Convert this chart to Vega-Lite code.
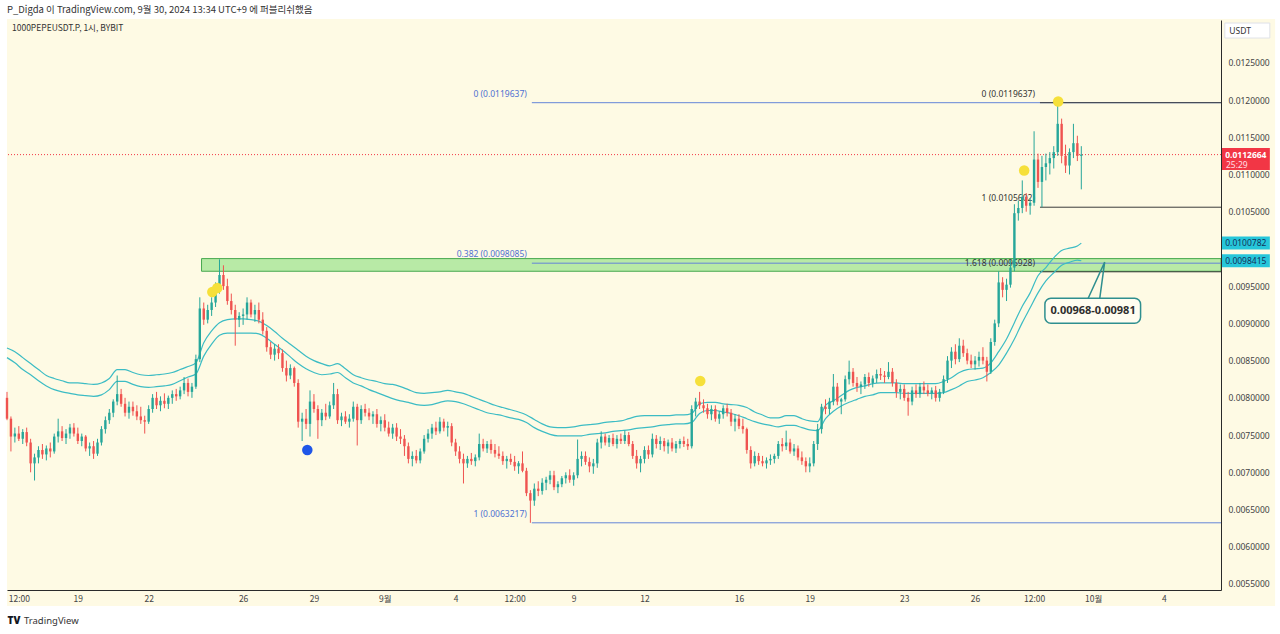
{
"$schema":"https://vega.github.io/schema/vega-lite/v6.json",
"width":1214,"height":570,
"autosize":{"type":"none"},
"padding":{"left":7,"top":20,"right":59,"bottom":44},
"background":"#ffffff",
"config":{"view":{"stroke":null},"font":"Noto Sans"},
"title":{"text":"P_Digda 이 TradingView.com, 9월 30, 2024 13:34 UTC+9 에 퍼블리쉬했음","anchor":"start","frame":"group","offset":5,"fontSize":9.5,"fontWeight":"normal","color":"#333333","font":"Noto Sans CJK KR"},
"resolve":{"axis":{"x":"independent","y":"independent"}},
"datasets":{
"zone":[{"s":"2024-08-24T05:45Z","e":"2024-10-06T10:00Z","lo":0.00970,"hi":0.00987}],
"fib":[
{"g":"a","lab":"0 (0.0119637)","p":0.0119637,"s":"2024-09-07T05:30Z","e":"2024-10-06T10:00Z"},
{"g":"a","lab":"0.382 (0.0098085)","p":0.0098085,"s":"2024-09-07T05:30Z","e":"2024-10-06T10:00Z"},
{"g":"a","lab":"1 (0.0063217)","p":0.0063217,"s":"2024-09-07T05:30Z","e":"2024-10-06T10:00Z"},
{"g":"b","lab":"0 (0.0119637)","p":0.0119637,"s":"2024-09-28T18:00Z","e":"2024-10-06T10:00Z"},
{"g":"b","lab":"1 (0.0105602)","p":0.0105602,"s":"2024-09-28T18:00Z","e":"2024-10-06T10:00Z"},
{"g":"b","lab":"1.618 (0.0096928)","p":0.0096928,"s":"2024-09-28T18:00Z","e":"2024-10-06T10:00Z"}],
"dots":[
{"t":"2024-08-24T16:40Z","p":0.009421,"k":"yellow"},
{"t":"2024-08-24T21:45Z","p":0.009475,"k":"yellow"},
{"t":"2024-08-28T17:15Z","p":0.00730,"k":"blue"},
{"t":"2024-09-14T08:40Z","p":0.008226,"k":"yellow"},
{"t":"2024-09-28T01:55Z","p":0.011053,"k":"yellow"},
{"t":"2024-09-29T12:30Z","p":0.011980,"k":"yellow"}],
"pointer":[
{"o":1,"t":"2024-09-30T19:00Z","p":0.009337},
{"o":2,"t":"2024-10-01T11:45Z","p":0.009822},
{"o":3,"t":"2024-10-01T06:45Z","p":0.009337}],
"tags":[{"p":0.0100782},{"p":0.0098415}],
"candles":[
{"t":"2024-08-16T00:00Z","o":0.00800,"h":0.00808,"l":0.00770,"c":0.00772,"u":0.00867,"b":0.00854},
{"t":"2024-08-16T04:00Z","o":0.00772,"h":0.00775,"l":0.00728,"c":0.00748},
{"t":"2024-08-16T08:00Z","o":0.00748,"h":0.00760,"l":0.00740,"c":0.00752,"u":0.00862,"b":0.00847},
{"t":"2024-08-16T12:00Z","o":0.00752,"h":0.00762,"l":0.00742,"c":0.00745},
{"t":"2024-08-16T16:00Z","o":0.00745,"h":0.00758,"l":0.00738,"c":0.00754,"u":0.00854,"b":0.00838},
{"t":"2024-08-16T20:00Z","o":0.00754,"h":0.00760,"l":0.00735,"c":0.00740},
{"t":"2024-08-17T00:00Z","o":0.00740,"h":0.00745,"l":0.00700,"c":0.00712,"u":0.00846,"b":0.00831},
{"t":"2024-08-17T04:00Z","o":0.00712,"h":0.00725,"l":0.00689,"c":0.00720},
{"t":"2024-08-17T08:00Z","o":0.00720,"h":0.00735,"l":0.00712,"c":0.00730,"u":0.00838,"b":0.00823},
{"t":"2024-08-17T12:00Z","o":0.00730,"h":0.00738,"l":0.00718,"c":0.00724},
{"t":"2024-08-17T16:00Z","o":0.00724,"h":0.00736,"l":0.00716,"c":0.00732,"u":0.00830,"b":0.00816},
{"t":"2024-08-17T20:00Z","o":0.00732,"h":0.00740,"l":0.00720,"c":0.00728},
{"t":"2024-08-18T00:00Z","o":0.00728,"h":0.00752,"l":0.00725,"c":0.00748,"u":0.00826,"b":0.00811},
{"t":"2024-08-18T04:00Z","o":0.00748,"h":0.00772,"l":0.00740,"c":0.00755},
{"t":"2024-08-18T08:00Z","o":0.00755,"h":0.00762,"l":0.00742,"c":0.00746,"u":0.00823,"b":0.00808},
{"t":"2024-08-18T12:00Z","o":0.00746,"h":0.00758,"l":0.00738,"c":0.00752},
{"t":"2024-08-18T16:00Z","o":0.00752,"h":0.00765,"l":0.00745,"c":0.00760,"u":0.00820,"b":0.00806},
{"t":"2024-08-18T20:00Z","o":0.00760,"h":0.00766,"l":0.00748,"c":0.00752},
{"t":"2024-08-19T00:00Z","o":0.00752,"h":0.00760,"l":0.00738,"c":0.00742,"u":0.00820,"b":0.00804},
{"t":"2024-08-19T04:00Z","o":0.00742,"h":0.00752,"l":0.00735,"c":0.00748},
{"t":"2024-08-19T08:00Z","o":0.00748,"h":0.00750,"l":0.00728,"c":0.00732,"u":0.00819,"b":0.00803},
{"t":"2024-08-19T12:00Z","o":0.00732,"h":0.00740,"l":0.00722,"c":0.00735},
{"t":"2024-08-19T16:00Z","o":0.00735,"h":0.00742,"l":0.00718,"c":0.00725,"u":0.00818,"b":0.00802},
{"t":"2024-08-19T20:00Z","o":0.00725,"h":0.00745,"l":0.00722,"c":0.00740},
{"t":"2024-08-20T00:00Z","o":0.00740,"h":0.00762,"l":0.00736,"c":0.00758,"u":0.00820,"b":0.00804},
{"t":"2024-08-20T04:00Z","o":0.00758,"h":0.00775,"l":0.00752,"c":0.00770},
{"t":"2024-08-20T08:00Z","o":0.00770,"h":0.00785,"l":0.00765,"c":0.00780,"u":0.00826,"b":0.00811},
{"t":"2024-08-20T12:00Z","o":0.00780,"h":0.00798,"l":0.00774,"c":0.00795},
{"t":"2024-08-20T16:00Z","o":0.00795,"h":0.00830,"l":0.00790,"c":0.00805,"u":0.00838,"b":0.00822},
{"t":"2024-08-20T20:00Z","o":0.00805,"h":0.00812,"l":0.00788,"c":0.00792},
{"t":"2024-08-21T00:00Z","o":0.00792,"h":0.00800,"l":0.00775,"c":0.00780,"u":0.00838,"b":0.00822},
{"t":"2024-08-21T04:00Z","o":0.00780,"h":0.00795,"l":0.00772,"c":0.00788},
{"t":"2024-08-21T08:00Z","o":0.00788,"h":0.00795,"l":0.00776,"c":0.00782,"u":0.00834,"b":0.00818},
{"t":"2024-08-21T12:00Z","o":0.00782,"h":0.00790,"l":0.00770,"c":0.00775},
{"t":"2024-08-21T16:00Z","o":0.00775,"h":0.00788,"l":0.00765,"c":0.00770,"u":0.00831,"b":0.00815},
{"t":"2024-08-21T20:00Z","o":0.00770,"h":0.00776,"l":0.00752,"c":0.00768},
{"t":"2024-08-22T00:00Z","o":0.00768,"h":0.00790,"l":0.00765,"c":0.00785,"u":0.00830,"b":0.00814},
{"t":"2024-08-22T04:00Z","o":0.00785,"h":0.00805,"l":0.00780,"c":0.00800},
{"t":"2024-08-22T08:00Z","o":0.00800,"h":0.00808,"l":0.00785,"c":0.00790,"u":0.00831,"b":0.00815},
{"t":"2024-08-22T12:00Z","o":0.00790,"h":0.00802,"l":0.00782,"c":0.00796},
{"t":"2024-08-22T16:00Z","o":0.00796,"h":0.00806,"l":0.00786,"c":0.00792,"u":0.00832,"b":0.00816},
{"t":"2024-08-22T20:00Z","o":0.00792,"h":0.00803,"l":0.00785,"c":0.00800},
{"t":"2024-08-23T00:00Z","o":0.00800,"h":0.00810,"l":0.00792,"c":0.00805,"u":0.00834,"b":0.00818},
{"t":"2024-08-23T04:00Z","o":0.00805,"h":0.00812,"l":0.00796,"c":0.00802},
{"t":"2024-08-23T08:00Z","o":0.00802,"h":0.00815,"l":0.00798,"c":0.00810,"u":0.00838,"b":0.00823},
{"t":"2024-08-23T12:00Z","o":0.00810,"h":0.00828,"l":0.00805,"c":0.00820},
{"t":"2024-08-23T16:00Z","o":0.00820,"h":0.00826,"l":0.00802,"c":0.00808,"u":0.00842,"b":0.00828},
{"t":"2024-08-23T20:00Z","o":0.00808,"h":0.00820,"l":0.00800,"c":0.00815},
{"t":"2024-08-24T00:00Z","o":0.00815,"h":0.00858,"l":0.00812,"c":0.00852,"u":0.00847,"b":0.00832},
{"t":"2024-08-24T04:00Z","o":0.00852,"h":0.00935,"l":0.00848,"c":0.00920},
{"t":"2024-08-24T08:00Z","o":0.00920,"h":0.00928,"l":0.00898,"c":0.00905,"u":0.00874,"b":0.00856},
{"t":"2024-08-24T12:00Z","o":0.00905,"h":0.00925,"l":0.00900,"c":0.00918},
{"t":"2024-08-24T16:00Z","o":0.00918,"h":0.00935,"l":0.00910,"c":0.00928,"u":0.00890,"b":0.00872},
{"t":"2024-08-24T20:00Z","o":0.00928,"h":0.00955,"l":0.00922,"c":0.00945},
{"t":"2024-08-25T00:00Z","o":0.00945,"h":0.00986,"l":0.00940,"c":0.00965,"u":0.00901,"b":0.00884},
{"t":"2024-08-25T04:00Z","o":0.00965,"h":0.00978,"l":0.00945,"c":0.00950},
{"t":"2024-08-25T08:00Z","o":0.00950,"h":0.00960,"l":0.00925,"c":0.00930,"u":0.00905,"b":0.00887},
{"t":"2024-08-25T12:00Z","o":0.00930,"h":0.00940,"l":0.00912,"c":0.00918},
{"t":"2024-08-25T16:00Z","o":0.00918,"h":0.00925,"l":0.00870,"c":0.00905,"u":0.00906,"b":0.00887},
{"t":"2024-08-25T20:00Z","o":0.00905,"h":0.00915,"l":0.00895,"c":0.00910},
{"t":"2024-08-26T00:00Z","o":0.00910,"h":0.00920,"l":0.00898,"c":0.00912,"u":0.00906,"b":0.00887},
{"t":"2024-08-26T04:00Z","o":0.00912,"h":0.00935,"l":0.00905,"c":0.00928},
{"t":"2024-08-26T08:00Z","o":0.00928,"h":0.00932,"l":0.00908,"c":0.00912,"u":0.00905,"b":0.00887},
{"t":"2024-08-26T12:00Z","o":0.00912,"h":0.00925,"l":0.00902,"c":0.00918},
{"t":"2024-08-26T16:00Z","o":0.00918,"h":0.00928,"l":0.00900,"c":0.00905,"u":0.00903,"b":0.00886},
{"t":"2024-08-26T20:00Z","o":0.00905,"h":0.00915,"l":0.00885,"c":0.00890},
{"t":"2024-08-27T00:00Z","o":0.00890,"h":0.00895,"l":0.00862,"c":0.00868,"u":0.00897,"b":0.00880},
{"t":"2024-08-27T04:00Z","o":0.00868,"h":0.00875,"l":0.00852,"c":0.00858},
{"t":"2024-08-27T08:00Z","o":0.00858,"h":0.00872,"l":0.00850,"c":0.00866,"u":0.00889,"b":0.00872},
{"t":"2024-08-27T12:00Z","o":0.00866,"h":0.00872,"l":0.00852,"c":0.00860},
{"t":"2024-08-27T16:00Z","o":0.00860,"h":0.00865,"l":0.00835,"c":0.00840,"u":0.00880,"b":0.00864},
{"t":"2024-08-27T20:00Z","o":0.00840,"h":0.00850,"l":0.00822,"c":0.00830},
{"t":"2024-08-28T00:00Z","o":0.00830,"h":0.00845,"l":0.00825,"c":0.00840,"u":0.00872,"b":0.00855},
{"t":"2024-08-28T04:00Z","o":0.00840,"h":0.00842,"l":0.00815,"c":0.00820},
{"t":"2024-08-28T08:00Z","o":0.00820,"h":0.00825,"l":0.00760,"c":0.00768,"u":0.00864,"b":0.00846},
{"t":"2024-08-28T12:00Z","o":0.00768,"h":0.00780,"l":0.00742,"c":0.00772},
{"t":"2024-08-28T16:00Z","o":0.00772,"h":0.00785,"l":0.00758,"c":0.00765,"u":0.00856,"b":0.00839},
{"t":"2024-08-28T20:00Z","o":0.00765,"h":0.00810,"l":0.00748,"c":0.00795},
{"t":"2024-08-29T00:00Z","o":0.00795,"h":0.00805,"l":0.00780,"c":0.00785,"u":0.00850,"b":0.00834},
{"t":"2024-08-29T04:00Z","o":0.00785,"h":0.00790,"l":0.00745,"c":0.00770},
{"t":"2024-08-29T08:00Z","o":0.00770,"h":0.00785,"l":0.00762,"c":0.00780,"u":0.00846,"b":0.00831},
{"t":"2024-08-29T12:00Z","o":0.00780,"h":0.00792,"l":0.00770,"c":0.00775},
{"t":"2024-08-29T16:00Z","o":0.00775,"h":0.00795,"l":0.00772,"c":0.00790,"u":0.00843,"b":0.00832},
{"t":"2024-08-29T20:00Z","o":0.00790,"h":0.00820,"l":0.00785,"c":0.00805},
{"t":"2024-08-30T00:00Z","o":0.00805,"h":0.00812,"l":0.00765,"c":0.00770,"u":0.00846,"b":0.00834},
{"t":"2024-08-30T04:00Z","o":0.00770,"h":0.00780,"l":0.00762,"c":0.00775},
{"t":"2024-08-30T08:00Z","o":0.00775,"h":0.00782,"l":0.00765,"c":0.00768,"u":0.00839,"b":0.00827},
{"t":"2024-08-30T12:00Z","o":0.00768,"h":0.00778,"l":0.00760,"c":0.00772},
{"t":"2024-08-30T16:00Z","o":0.00772,"h":0.00795,"l":0.00768,"c":0.00788,"u":0.00831,"b":0.00820},
{"t":"2024-08-30T20:00Z","o":0.00788,"h":0.00792,"l":0.00736,"c":0.00770},
{"t":"2024-08-31T00:00Z","o":0.00770,"h":0.00790,"l":0.00765,"c":0.00785,"u":0.00827,"b":0.00816},
{"t":"2024-08-31T04:00Z","o":0.00785,"h":0.00792,"l":0.00775,"c":0.00780},
{"t":"2024-08-31T08:00Z","o":0.00780,"h":0.00786,"l":0.00770,"c":0.00775,"u":0.00824,"b":0.00811},
{"t":"2024-08-31T12:00Z","o":0.00775,"h":0.00782,"l":0.00765,"c":0.00778},
{"t":"2024-08-31T16:00Z","o":0.00778,"h":0.00785,"l":0.00760,"c":0.00765,"u":0.00822,"b":0.00807},
{"t":"2024-08-31T20:00Z","o":0.00765,"h":0.00775,"l":0.00755,"c":0.00770},
{"t":"2024-09-01T00:00Z","o":0.00770,"h":0.00778,"l":0.00755,"c":0.00760,"u":0.00819,"b":0.00803},
{"t":"2024-09-01T04:00Z","o":0.00760,"h":0.00768,"l":0.00748,"c":0.00752},
{"t":"2024-09-01T08:00Z","o":0.00752,"h":0.00765,"l":0.00745,"c":0.00760,"u":0.00818,"b":0.00799},
{"t":"2024-09-01T12:00Z","o":0.00760,"h":0.00766,"l":0.00742,"c":0.00748},
{"t":"2024-09-01T16:00Z","o":0.00748,"h":0.00758,"l":0.00738,"c":0.00745,"u":0.00815,"b":0.00796},
{"t":"2024-09-01T20:00Z","o":0.00745,"h":0.00750,"l":0.00722,"c":0.00735},
{"t":"2024-09-02T00:00Z","o":0.00735,"h":0.00740,"l":0.00712,"c":0.00718,"u":0.00811,"b":0.00794},
{"t":"2024-09-02T04:00Z","o":0.00718,"h":0.00728,"l":0.00708,"c":0.00722},
{"t":"2024-09-02T08:00Z","o":0.00722,"h":0.00730,"l":0.00712,"c":0.00716,"u":0.00807,"b":0.00791},
{"t":"2024-09-02T12:00Z","o":0.00716,"h":0.00732,"l":0.00712,"c":0.00728},
{"t":"2024-09-02T16:00Z","o":0.00728,"h":0.00750,"l":0.00725,"c":0.00745,"u":0.00806,"b":0.00790},
{"t":"2024-09-02T20:00Z","o":0.00745,"h":0.00758,"l":0.00740,"c":0.00752},
{"t":"2024-09-03T00:00Z","o":0.00752,"h":0.00765,"l":0.00745,"c":0.00760,"u":0.00807,"b":0.00791},
{"t":"2024-09-03T04:00Z","o":0.00760,"h":0.00768,"l":0.00750,"c":0.00755},
{"t":"2024-09-03T08:00Z","o":0.00755,"h":0.00774,"l":0.00752,"c":0.00768,"u":0.00808,"b":0.00794},
{"t":"2024-09-03T12:00Z","o":0.00768,"h":0.00772,"l":0.00755,"c":0.00760},
{"t":"2024-09-03T16:00Z","o":0.00760,"h":0.00768,"l":0.00748,"c":0.00762,"u":0.00810,"b":0.00796},
{"t":"2024-09-03T20:00Z","o":0.00762,"h":0.00766,"l":0.00735,"c":0.00740},
{"t":"2024-09-04T00:00Z","o":0.00740,"h":0.00745,"l":0.00722,"c":0.00728,"u":0.00808,"b":0.00795},
{"t":"2024-09-04T04:00Z","o":0.00728,"h":0.00735,"l":0.00712,"c":0.00718},
{"t":"2024-09-04T08:00Z","o":0.00718,"h":0.00725,"l":0.00685,"c":0.00712,"u":0.00806,"b":0.00792},
{"t":"2024-09-04T12:00Z","o":0.00712,"h":0.00722,"l":0.00706,"c":0.00718},
{"t":"2024-09-04T16:00Z","o":0.00718,"h":0.00726,"l":0.00710,"c":0.00715,"u":0.00802,"b":0.00788},
{"t":"2024-09-04T20:00Z","o":0.00715,"h":0.00724,"l":0.00708,"c":0.00720},
{"t":"2024-09-05T00:00Z","o":0.00720,"h":0.00752,"l":0.00716,"c":0.00738,"u":0.00798,"b":0.00784},
{"t":"2024-09-05T04:00Z","o":0.00738,"h":0.00745,"l":0.00728,"c":0.00732},
{"t":"2024-09-05T08:00Z","o":0.00732,"h":0.00742,"l":0.00726,"c":0.00738,"u":0.00794,"b":0.00780},
{"t":"2024-09-05T12:00Z","o":0.00738,"h":0.00744,"l":0.00725,"c":0.00730},
{"t":"2024-09-05T16:00Z","o":0.00730,"h":0.00738,"l":0.00720,"c":0.00725,"u":0.00790,"b":0.00778},
{"t":"2024-09-05T20:00Z","o":0.00725,"h":0.00735,"l":0.00718,"c":0.00722},
{"t":"2024-09-06T00:00Z","o":0.00722,"h":0.00728,"l":0.00710,"c":0.00715,"u":0.00787,"b":0.00776},
{"t":"2024-09-06T04:00Z","o":0.00715,"h":0.00722,"l":0.00705,"c":0.00718},
{"t":"2024-09-06T08:00Z","o":0.00718,"h":0.00725,"l":0.00710,"c":0.00714,"u":0.00784,"b":0.00773},
{"t":"2024-09-06T12:00Z","o":0.00714,"h":0.00722,"l":0.00702,"c":0.00708},
{"t":"2024-09-06T16:00Z","o":0.00708,"h":0.00715,"l":0.00698,"c":0.00712,"u":0.00781,"b":0.00771},
{"t":"2024-09-06T20:00Z","o":0.00712,"h":0.00728,"l":0.00700,"c":0.00702},
{"t":"2024-09-07T00:00Z","o":0.00702,"h":0.00706,"l":0.00668,"c":0.00672,"u":0.00777,"b":0.00767},
{"t":"2024-09-07T04:00Z","o":0.00672,"h":0.00676,"l":0.0063217,"c":0.00662},
{"t":"2024-09-07T08:00Z","o":0.00662,"h":0.00685,"l":0.00655,"c":0.00678,"u":0.00771,"b":0.00760},
{"t":"2024-09-07T12:00Z","o":0.00678,"h":0.00688,"l":0.00668,"c":0.00675},
{"t":"2024-09-07T16:00Z","o":0.00675,"h":0.00692,"l":0.00670,"c":0.00686,"u":0.00765,"b":0.00755},
{"t":"2024-09-07T20:00Z","o":0.00686,"h":0.00694,"l":0.00676,"c":0.00690},
{"t":"2024-09-08T00:00Z","o":0.00690,"h":0.00702,"l":0.00684,"c":0.00696,"u":0.00761,"b":0.00751},
{"t":"2024-09-08T04:00Z","o":0.00696,"h":0.00702,"l":0.00676,"c":0.00680},
{"t":"2024-09-08T08:00Z","o":0.00680,"h":0.00688,"l":0.00672,"c":0.00684,"u":0.00760,"b":0.00749},
{"t":"2024-09-08T12:00Z","o":0.00684,"h":0.00695,"l":0.00680,"c":0.00692},
{"t":"2024-09-08T16:00Z","o":0.00692,"h":0.00700,"l":0.00685,"c":0.00696,"u":0.00760,"b":0.00749},
{"t":"2024-09-08T20:00Z","o":0.00696,"h":0.00704,"l":0.00686,"c":0.00690},
{"t":"2024-09-09T00:00Z","o":0.00690,"h":0.00700,"l":0.00682,"c":0.00696,"u":0.00761,"b":0.00749},
{"t":"2024-09-09T04:00Z","o":0.00696,"h":0.00744,"l":0.00692,"c":0.00718},
{"t":"2024-09-09T08:00Z","o":0.00718,"h":0.00728,"l":0.00708,"c":0.00722,"u":0.00763,"b":0.00749},
{"t":"2024-09-09T12:00Z","o":0.00722,"h":0.00728,"l":0.00710,"c":0.00714},
{"t":"2024-09-09T16:00Z","o":0.00714,"h":0.00720,"l":0.00700,"c":0.00708,"u":0.00764,"b":0.00751},
{"t":"2024-09-09T20:00Z","o":0.00708,"h":0.00718,"l":0.00698,"c":0.00712},
{"t":"2024-09-10T00:00Z","o":0.00712,"h":0.00745,"l":0.00706,"c":0.00740,"u":0.00765,"b":0.00752},
{"t":"2024-09-10T04:00Z","o":0.00740,"h":0.00755,"l":0.00732,"c":0.00748},
{"t":"2024-09-10T08:00Z","o":0.00748,"h":0.00752,"l":0.00736,"c":0.00740,"u":0.00767,"b":0.00753},
{"t":"2024-09-10T12:00Z","o":0.00740,"h":0.00750,"l":0.00734,"c":0.00746},
{"t":"2024-09-10T16:00Z","o":0.00746,"h":0.00752,"l":0.00735,"c":0.00738,"u":0.00768,"b":0.00755},
{"t":"2024-09-10T20:00Z","o":0.00738,"h":0.00750,"l":0.00732,"c":0.00745},
{"t":"2024-09-11T00:00Z","o":0.00745,"h":0.00752,"l":0.00738,"c":0.00742,"u":0.00769,"b":0.00756},
{"t":"2024-09-11T04:00Z","o":0.00742,"h":0.00756,"l":0.00738,"c":0.00750},
{"t":"2024-09-11T08:00Z","o":0.00750,"h":0.00754,"l":0.00735,"c":0.00738,"u":0.00772,"b":0.00757},
{"t":"2024-09-11T12:00Z","o":0.00738,"h":0.00742,"l":0.00718,"c":0.00722},
{"t":"2024-09-11T16:00Z","o":0.00722,"h":0.00730,"l":0.00705,"c":0.00712,"u":0.00775,"b":0.00759},
{"t":"2024-09-11T20:00Z","o":0.00712,"h":0.00722,"l":0.00700,"c":0.00718},
{"t":"2024-09-12T00:00Z","o":0.00718,"h":0.00735,"l":0.00712,"c":0.00730,"u":0.00776,"b":0.00760},
{"t":"2024-09-12T04:00Z","o":0.00730,"h":0.00736,"l":0.00718,"c":0.00724},
{"t":"2024-09-12T08:00Z","o":0.00724,"h":0.00752,"l":0.00720,"c":0.00745,"u":0.00776,"b":0.00761},
{"t":"2024-09-12T12:00Z","o":0.00745,"h":0.00750,"l":0.00732,"c":0.00738},
{"t":"2024-09-12T16:00Z","o":0.00738,"h":0.00748,"l":0.00730,"c":0.00742,"u":0.00776,"b":0.00763},
{"t":"2024-09-12T20:00Z","o":0.00742,"h":0.00746,"l":0.00728,"c":0.00735},
{"t":"2024-09-13T00:00Z","o":0.00735,"h":0.00744,"l":0.00725,"c":0.00740,"u":0.00776,"b":0.00764},
{"t":"2024-09-13T04:00Z","o":0.00740,"h":0.00746,"l":0.00728,"c":0.00732},
{"t":"2024-09-13T08:00Z","o":0.00732,"h":0.00742,"l":0.00726,"c":0.00738,"u":0.00777,"b":0.00765},
{"t":"2024-09-13T12:00Z","o":0.00738,"h":0.00745,"l":0.00732,"c":0.00742},
{"t":"2024-09-13T16:00Z","o":0.00742,"h":0.00748,"l":0.00734,"c":0.00738,"u":0.00777,"b":0.00765},
{"t":"2024-09-13T20:00Z","o":0.00738,"h":0.00745,"l":0.00730,"c":0.00735},
{"t":"2024-09-14T00:00Z","o":0.00735,"h":0.00790,"l":0.00732,"c":0.00785,"u":0.00779,"b":0.00767},
{"t":"2024-09-14T04:00Z","o":0.00785,"h":0.00800,"l":0.00775,"c":0.00795},
{"t":"2024-09-14T08:00Z","o":0.00795,"h":0.00808,"l":0.00785,"c":0.00790,"u":0.00792,"b":0.00779},
{"t":"2024-09-14T12:00Z","o":0.00790,"h":0.00798,"l":0.00780,"c":0.00786},
{"t":"2024-09-14T16:00Z","o":0.00786,"h":0.00792,"l":0.00772,"c":0.00778,"u":0.00794,"b":0.00783},
{"t":"2024-09-14T20:00Z","o":0.00778,"h":0.00790,"l":0.00770,"c":0.00785},
{"t":"2024-09-15T00:00Z","o":0.00785,"h":0.00790,"l":0.00768,"c":0.00772,"u":0.00794,"b":0.00783},
{"t":"2024-09-15T04:00Z","o":0.00772,"h":0.00782,"l":0.00765,"c":0.00778},
{"t":"2024-09-15T08:00Z","o":0.00778,"h":0.00790,"l":0.00772,"c":0.00786,"u":0.00792,"b":0.00781},
{"t":"2024-09-15T12:00Z","o":0.00786,"h":0.00792,"l":0.00775,"c":0.00780},
{"t":"2024-09-15T16:00Z","o":0.00780,"h":0.00785,"l":0.00762,"c":0.00768,"u":0.00791,"b":0.00779},
{"t":"2024-09-15T20:00Z","o":0.00768,"h":0.00778,"l":0.00755,"c":0.00772},
{"t":"2024-09-16T00:00Z","o":0.00772,"h":0.00778,"l":0.00758,"c":0.00762,"u":0.00790,"b":0.00776},
{"t":"2024-09-16T04:00Z","o":0.00762,"h":0.00772,"l":0.00752,"c":0.00758},
{"t":"2024-09-16T08:00Z","o":0.00758,"h":0.00760,"l":0.00725,"c":0.00730,"u":0.00787,"b":0.00772},
{"t":"2024-09-16T12:00Z","o":0.00730,"h":0.00735,"l":0.00705,"c":0.00712},
{"t":"2024-09-16T16:00Z","o":0.00712,"h":0.00728,"l":0.00708,"c":0.00722,"u":0.00781,"b":0.00768},
{"t":"2024-09-16T20:00Z","o":0.00722,"h":0.00726,"l":0.00710,"c":0.00715},
{"t":"2024-09-17T00:00Z","o":0.00715,"h":0.00722,"l":0.00708,"c":0.00712,"u":0.00777,"b":0.00765},
{"t":"2024-09-17T04:00Z","o":0.00712,"h":0.00720,"l":0.00705,"c":0.00716},
{"t":"2024-09-17T08:00Z","o":0.00716,"h":0.00724,"l":0.00710,"c":0.00718,"u":0.00773,"b":0.00763},
{"t":"2024-09-17T12:00Z","o":0.00718,"h":0.00725,"l":0.00712,"c":0.00722},
{"t":"2024-09-17T16:00Z","o":0.00722,"h":0.00742,"l":0.00718,"c":0.00738,"u":0.00773,"b":0.00761},
{"t":"2024-09-17T20:00Z","o":0.00738,"h":0.00746,"l":0.00728,"c":0.00735},
{"t":"2024-09-18T00:00Z","o":0.00735,"h":0.00756,"l":0.00730,"c":0.00740,"u":0.00776,"b":0.00763},
{"t":"2024-09-18T04:00Z","o":0.00740,"h":0.00745,"l":0.00725,"c":0.00728},
{"t":"2024-09-18T08:00Z","o":0.00728,"h":0.00738,"l":0.00722,"c":0.00732,"u":0.00776,"b":0.00763},
{"t":"2024-09-18T12:00Z","o":0.00732,"h":0.00736,"l":0.00716,"c":0.00720},
{"t":"2024-09-18T16:00Z","o":0.00720,"h":0.00728,"l":0.00710,"c":0.00715,"u":0.00772,"b":0.00760},
{"t":"2024-09-18T20:00Z","o":0.00715,"h":0.00720,"l":0.00700,"c":0.00708},
{"t":"2024-09-19T00:00Z","o":0.00708,"h":0.00720,"l":0.00700,"c":0.00712,"u":0.00769,"b":0.00757},
{"t":"2024-09-19T04:00Z","o":0.00712,"h":0.00742,"l":0.00708,"c":0.00738},
{"t":"2024-09-19T08:00Z","o":0.00738,"h":0.00765,"l":0.00730,"c":0.00758,"u":0.00768,"b":0.00756},
{"t":"2024-09-19T12:00Z","o":0.00758,"h":0.00792,"l":0.00752,"c":0.00788},
{"t":"2024-09-19T16:00Z","o":0.00788,"h":0.00798,"l":0.00778,"c":0.00785,"u":0.00790,"b":0.00772},
{"t":"2024-09-19T20:00Z","o":0.00785,"h":0.00800,"l":0.00778,"c":0.00795},
{"t":"2024-09-20T00:00Z","o":0.00795,"h":0.00832,"l":0.00790,"c":0.00815,"u":0.00796,"b":0.00782},
{"t":"2024-09-20T04:00Z","o":0.00815,"h":0.00820,"l":0.00790,"c":0.00795},
{"t":"2024-09-20T08:00Z","o":0.00795,"h":0.00800,"l":0.00778,"c":0.00798,"u":0.00803,"b":0.00789},
{"t":"2024-09-20T12:00Z","o":0.00798,"h":0.00830,"l":0.00795,"c":0.00825},
{"t":"2024-09-20T16:00Z","o":0.00825,"h":0.00850,"l":0.00818,"c":0.00835,"u":0.00810,"b":0.00794},
{"t":"2024-09-20T20:00Z","o":0.00835,"h":0.00840,"l":0.00815,"c":0.00820},
{"t":"2024-09-21T00:00Z","o":0.00820,"h":0.00828,"l":0.00808,"c":0.00815,"u":0.00814,"b":0.00798},
{"t":"2024-09-21T04:00Z","o":0.00815,"h":0.00822,"l":0.00805,"c":0.00818},
{"t":"2024-09-21T08:00Z","o":0.00818,"h":0.00832,"l":0.00812,"c":0.00828,"u":0.00816,"b":0.00802},
{"t":"2024-09-21T12:00Z","o":0.00828,"h":0.00834,"l":0.00815,"c":0.00820},
{"t":"2024-09-21T16:00Z","o":0.00820,"h":0.00830,"l":0.00814,"c":0.00826,"u":0.00819,"b":0.00804},
{"t":"2024-09-21T20:00Z","o":0.00826,"h":0.00838,"l":0.00820,"c":0.00832},
{"t":"2024-09-22T00:00Z","o":0.00832,"h":0.00840,"l":0.00824,"c":0.00830,"u":0.00820,"b":0.00807},
{"t":"2024-09-22T04:00Z","o":0.00830,"h":0.00836,"l":0.00820,"c":0.00828},
{"t":"2024-09-22T08:00Z","o":0.00828,"h":0.00848,"l":0.00825,"c":0.00835,"u":0.00820,"b":0.00807},
{"t":"2024-09-22T12:00Z","o":0.00835,"h":0.00840,"l":0.00815,"c":0.00820},
{"t":"2024-09-22T16:00Z","o":0.00820,"h":0.00825,"l":0.00800,"c":0.00808,"u":0.00820,"b":0.00807},
{"t":"2024-09-22T20:00Z","o":0.00808,"h":0.00818,"l":0.00798,"c":0.00812},
{"t":"2024-09-23T00:00Z","o":0.00812,"h":0.00818,"l":0.00796,"c":0.00800,"u":0.00819,"b":0.00806},
{"t":"2024-09-23T04:00Z","o":0.00800,"h":0.00808,"l":0.00776,"c":0.00795},
{"t":"2024-09-23T08:00Z","o":0.00795,"h":0.00815,"l":0.00790,"c":0.00810,"u":0.00819,"b":0.00806},
{"t":"2024-09-23T12:00Z","o":0.00810,"h":0.00818,"l":0.00800,"c":0.00805},
{"t":"2024-09-23T16:00Z","o":0.00805,"h":0.00820,"l":0.00800,"c":0.00815,"u":0.00819,"b":0.00806},
{"t":"2024-09-23T20:00Z","o":0.00815,"h":0.00822,"l":0.00805,"c":0.00810},
{"t":"2024-09-24T00:00Z","o":0.00810,"h":0.00818,"l":0.00802,"c":0.00806,"u":0.00819,"b":0.00806},
{"t":"2024-09-24T04:00Z","o":0.00806,"h":0.00814,"l":0.00798,"c":0.00810},
{"t":"2024-09-24T08:00Z","o":0.00810,"h":0.00816,"l":0.00795,"c":0.00800,"u":0.00819,"b":0.00806},
{"t":"2024-09-24T12:00Z","o":0.00800,"h":0.00812,"l":0.00795,"c":0.00808},
{"t":"2024-09-24T16:00Z","o":0.00808,"h":0.00830,"l":0.00805,"c":0.00825,"u":0.00822,"b":0.00807},
{"t":"2024-09-24T20:00Z","o":0.00825,"h":0.00856,"l":0.00820,"c":0.00850},
{"t":"2024-09-25T00:00Z","o":0.00850,"h":0.00868,"l":0.00840,"c":0.00862,"u":0.00827,"b":0.00811},
{"t":"2024-09-25T04:00Z","o":0.00862,"h":0.00872,"l":0.00845,"c":0.00852},
{"t":"2024-09-25T08:00Z","o":0.00852,"h":0.00880,"l":0.00848,"c":0.00870,"u":0.00834,"b":0.00816},
{"t":"2024-09-25T12:00Z","o":0.00870,"h":0.00878,"l":0.00855,"c":0.00860},
{"t":"2024-09-25T16:00Z","o":0.00860,"h":0.00866,"l":0.00845,"c":0.00850,"u":0.00838,"b":0.00822},
{"t":"2024-09-25T20:00Z","o":0.00850,"h":0.00858,"l":0.00840,"c":0.00845},
{"t":"2024-09-26T00:00Z","o":0.00845,"h":0.00856,"l":0.00838,"c":0.00850,"u":0.00839,"b":0.00824},
{"t":"2024-09-26T04:00Z","o":0.00850,"h":0.00862,"l":0.00842,"c":0.00855},
{"t":"2024-09-26T08:00Z","o":0.00855,"h":0.00868,"l":0.00845,"c":0.00850,"u":0.00840,"b":0.00827},
{"t":"2024-09-26T12:00Z","o":0.00850,"h":0.00855,"l":0.00822,"c":0.00835},
{"t":"2024-09-26T16:00Z","o":0.00835,"h":0.00880,"l":0.00832,"c":0.00875,"u":0.00847,"b":0.00834},
{"t":"2024-09-26T20:00Z","o":0.00875,"h":0.00905,"l":0.00870,"c":0.00900},
{"t":"2024-09-27T00:00Z","o":0.00900,"h":0.00970,"l":0.00895,"c":0.00955,"u":0.00862,"b":0.00844},
{"t":"2024-09-27T04:00Z","o":0.00955,"h":0.00962,"l":0.00935,"c":0.00945},
{"t":"2024-09-27T08:00Z","o":0.00945,"h":0.00960,"l":0.00930,"c":0.00952,"u":0.00879,"b":0.00860},
{"t":"2024-09-27T12:00Z","o":0.00952,"h":0.00985,"l":0.00948,"c":0.00975},
{"t":"2024-09-27T16:00Z","o":0.00975,"h":0.01060,"l":0.00970,"c":0.01048,"u":0.00901,"b":0.00879},
{"t":"2024-09-27T20:00Z","o":0.01048,"h":0.01065,"l":0.01038,"c":0.01055},
{"t":"2024-09-28T00:00Z","o":0.01055,"h":0.01092,"l":0.01048,"c":0.01070,"u":0.00923,"b":0.00901},
{"t":"2024-09-28T04:00Z","o":0.01070,"h":0.01075,"l":0.01050,"c":0.01058},
{"t":"2024-09-28T08:00Z","o":0.01058,"h":0.01068,"l":0.01046,"c":0.01062,"u":0.00941,"b":0.00921},
{"t":"2024-09-28T12:00Z","o":0.01062,"h":0.01158,"l":0.01058,"c":0.01120},
{"t":"2024-09-28T16:00Z","o":0.01120,"h":0.01128,"l":0.01082,"c":0.01090,"u":0.00964,"b":0.00941},
{"t":"2024-09-28T20:00Z","o":0.01090,"h":0.01125,"l":0.0105602,"c":0.01110},
{"t":"2024-09-29T00:00Z","o":0.01110,"h":0.01128,"l":0.01092,"c":0.01115,"u":0.00975,"b":0.00957},
{"t":"2024-09-29T04:00Z","o":0.01115,"h":0.01130,"l":0.01100,"c":0.01122},
{"t":"2024-09-29T08:00Z","o":0.01122,"h":0.01138,"l":0.01108,"c":0.01130,"u":0.00988,"b":0.00968},
{"t":"2024-09-29T12:00Z","o":0.01130,"h":0.0119637,"l":0.01125,"c":0.01168},
{"t":"2024-09-29T16:00Z","o":0.01168,"h":0.01175,"l":0.01115,"c":0.01125,"u":0.00998,"b":0.00978},
{"t":"2024-09-29T20:00Z","o":0.01125,"h":0.01140,"l":0.01102,"c":0.01112},
{"t":"2024-09-30T00:00Z","o":0.01112,"h":0.01135,"l":0.01100,"c":0.01130,"u":0.01001,"b":0.00982},
{"t":"2024-09-30T04:00Z","o":0.01130,"h":0.01168,"l":0.01122,"c":0.01142},
{"t":"2024-09-30T08:00Z","o":0.01142,"h":0.01152,"l":0.01118,"c":0.01125,"u":0.01004,"b":0.00985},
{"t":"2024-09-30T12:00Z","o":0.01125,"h":0.01138,"l":0.01080,"c":0.0112664,"u":0.0100782,"b":0.0098415}
]},
"layer":[
{"data":{"values":[{}]},"mark":{"type":"rect","fill":"#fefae4","clip":false},
 "encoding":{"x":{"datum":{"year":2024,"month":8,"date":16,"utc":true},"type":"temporal","scale":{"type":"utc"},"axis":null},
 "x2":{"datum":{"year":2024,"month":10,"date":8,"hours":17,"utc":true}},
 "y":{"datum":0.0130878,"type":"quantitative","axis":null},"y2":{"datum":0.0052044}}},
{"data":{"name":"zone"},"mark":{"type":"rect","fill":"#b8eaa6","stroke":"#47a84f","strokeWidth":1},
 "encoding":{"x":{"field":"s","type":"temporal","scale":{"type":"utc"},"axis":null},"x2":{"field":"e"},
 "y":{"field":"lo","type":"quantitative","axis":null},"y2":{"field":"hi"}}},
{"data":{"name":"fib"},"mark":{"type":"rule","strokeWidth":1},
 "encoding":{"x":{"field":"s","type":"temporal","scale":{"type":"utc"},"axis":null},"x2":{"field":"e"},
 "y":{"field":"p","type":"quantitative","axis":null},
 "color":{"condition":{"test":"datum.g == 'a'","value":"#6485d8"},"value":"#3a3a3a"}}},
{"data":{"name":"fib"},"mark":{"type":"text","align":"right","baseline":"middle","dx":-5,"dy":-9,"fontSize":8.5},
 "encoding":{"x":{"field":"s","type":"temporal","scale":{"type":"utc"},"axis":null},
 "y":{"field":"p","type":"quantitative","axis":null},"text":{"field":"lab"},
 "color":{"condition":{"test":"datum.g == 'a'","value":"#4f70d2"},"value":"#333333"}}},
{"data":{"values":[{}]},"mark":{"type":"rule","stroke":"#f23645","strokeDash":[1,2],"strokeWidth":1},
 "encoding":{"y":{"datum":0.0112664,"type":"quantitative","axis":null}}},
{"data":{"name":"candles"},"transform":[{"filter":"isValid(datum.u)"}],"mark":{"type":"line","stroke":"#3cbcc4","strokeWidth":1.2,"interpolate":"monotone"},
 "encoding":{"x":{"field":"t","type":"temporal","scale":{"type":"utc"},"axis":null},"y":{"field":"u","type":"quantitative","axis":null}}},
{"data":{"name":"candles"},"transform":[{"filter":"isValid(datum.b)"}],"mark":{"type":"line","stroke":"#3cbcc4","strokeWidth":1.2,"interpolate":"monotone"},
 "encoding":{"x":{"field":"t","type":"temporal","scale":{"type":"utc"},"axis":null},"y":{"field":"b","type":"quantitative","axis":null}}},
{"data":{"name":"candles"},"mark":{"type":"rule","strokeWidth":1},
 "encoding":{
 "x":{"field":"t","type":"temporal",
  "scale":{"type":"utc","nice":false,"padding":0,"domain":[{"year":2024,"month":8,"date":16,"utc":true},{"year":2024,"month":10,"date":6,"hours":10,"utc":true}]},
  "axis":{"title":null,"ticks":false,"grid":false,"domainColor":"#2a2a2a","labelColor":"#444444","labelFontSize":8.5,"labelPadding":4,"labelFont":"Noto Sans CJK KR","labelFlush":false,"labelOverlap":false,"zindex":1,
   "values":[{"year":2024,"month":8,"date":16,"hours":12,"utc":true},{"year":2024,"month":8,"date":19,"utc":true},{"year":2024,"month":8,"date":22,"utc":true},{"year":2024,"month":8,"date":26,"utc":true},{"year":2024,"month":8,"date":29,"utc":true},{"year":2024,"month":9,"date":1,"utc":true},{"year":2024,"month":9,"date":4,"utc":true},{"year":2024,"month":9,"date":6,"hours":12,"utc":true},{"year":2024,"month":9,"date":9,"utc":true},{"year":2024,"month":9,"date":12,"utc":true},{"year":2024,"month":9,"date":16,"utc":true},{"year":2024,"month":9,"date":19,"utc":true},{"year":2024,"month":9,"date":23,"utc":true},{"year":2024,"month":9,"date":26,"utc":true},{"year":2024,"month":9,"date":28,"hours":12,"utc":true},{"year":2024,"month":10,"date":1,"utc":true},{"year":2024,"month":10,"date":4,"utc":true}],
   "labelExpr":"utchours(datum.value) == 12 ? '12:00' : (utcdate(datum.value) == 1 ? (utcmonth(datum.value) + 1) + '월' : '' + utcdate(datum.value))"}},
 "y":{"field":"l","type":"quantitative",
  "scale":{"domain":[0.0054193,0.0130744],"zero":false,"nice":false},
  "axis":{"orient":"right","title":null,"ticks":false,"grid":false,"domainColor":"#2a2a2a","labelColor":"#444444","labelFontSize":8.5,"labelPadding":7,"labelAlign":"left","labelBaseline":"middle","labelFlush":false,"labelOverlap":false,"format":".7f","zindex":1,
   "values":[0.0055,0.006,0.0065,0.007,0.0075,0.008,0.0085,0.009,0.0095,0.0105,0.011,0.0115,0.012,0.0125]}},
 "y2":{"field":"h"},
 "color":{"condition":{"test":"datum.c >= datum.o","value":"#26a69a"},"value":"#ef5350"}}},
{"data":{"name":"candles"},"mark":{"type":"bar","width":2.4},
 "encoding":{"x":{"field":"t","type":"temporal","scale":{"type":"utc"},"axis":null},
 "y":{"field":"o","type":"quantitative","axis":null},"y2":{"field":"c"},
 "color":{"condition":{"test":"datum.c >= datum.o","value":"#26a69a"},"value":"#ef5350"}}},
{"data":{"name":"dots"},"mark":{"type":"point","filled":true,"opacity":1,"size":110},
 "encoding":{"x":{"field":"t","type":"temporal","scale":{"type":"utc"},"axis":null},
 "y":{"field":"p","type":"quantitative","axis":null},
 "color":{"condition":{"test":"datum.k == 'blue'","value":"#1f56e8"},"value":"#f6e03a"}}},
{"data":{"values":[{}]},"mark":{"type":"rect","fill":"#fffdf0","stroke":"#2f8f8f","strokeWidth":1.5,"cornerRadius":6,"clip":false},
 "encoding":{"x":{"datum":{"year":2024,"month":9,"date":28,"hours":23,"utc":true},"type":"temporal","scale":{"type":"utc"},"axis":null},
 "x2":{"datum":{"year":2024,"month":10,"date":3,"minutes":15,"utc":true}},
 "y":{"datum":0.009337,"type":"quantitative","axis":null},"y2":{"datum":0.009001}}},
{"data":{"name":"pointer"},"mark":{"type":"line","stroke":"#2f8f8f","strokeWidth":1.5},
 "encoding":{"x":{"field":"t","type":"temporal","scale":{"type":"utc"},"axis":null},
 "y":{"field":"p","type":"quantitative","axis":null},"order":{"field":"o"}}},
{"data":{"values":[{}]},"mark":{"type":"text","text":"0.00968-0.00981","fontWeight":"bold","fontSize":11,"color":"#2e2e2e","align":"center","baseline":"middle"},
 "encoding":{"x":{"datum":{"year":2024,"month":10,"date":1,"utc":true},"type":"temporal","scale":{"type":"utc"},"axis":null},
 "y":{"datum":0.009169,"type":"quantitative","axis":null}}},
{"data":{"values":[{}]},"mark":{"type":"point","shape":"M-1,-0.28H1V0.64H-1Z","size":2304,"filled":true,"color":"#f23645","opacity":1,"strokeWidth":0,"clip":false},
 "encoding":{"x":{"datum":{"year":2024,"month":10,"date":7,"hours":11,"minutes":15,"utc":true},"type":"temporal","scale":{"type":"utc"},"axis":null},
 "y":{"datum":0.0112664,"type":"quantitative","axis":null}}},
{"data":{"values":[{}]},"mark":{"type":"text","text":"0.0112664","fontSize":8.5,"fontWeight":"bold","color":"#ffffff","align":"center","baseline":"middle","clip":false},
 "encoding":{"x":{"datum":{"year":2024,"month":10,"date":7,"hours":11,"minutes":15,"utc":true},"type":"temporal","scale":{"type":"utc"},"axis":null},
 "y":{"datum":0.0112664,"type":"quantitative","axis":null}}},
{"data":{"values":[{}]},"mark":{"type":"text","text":"25:29","fontSize":8.5,"color":"#ffdfe2","align":"center","baseline":"middle","dy":10,"dx":-9,"clip":false},
 "encoding":{"x":{"datum":{"year":2024,"month":10,"date":7,"hours":11,"minutes":15,"utc":true},"type":"temporal","scale":{"type":"utc"},"axis":null},
 "y":{"datum":0.0112664,"type":"quantitative","axis":null}}},
{"data":{"name":"tags"},"mark":{"type":"point","shape":"M-1,-0.27H1V0.27H-1Z","size":2304,"filled":true,"color":"#26c6da","opacity":1,"strokeWidth":0,"clip":false},
 "encoding":{"x":{"datum":{"year":2024,"month":10,"date":7,"hours":11,"minutes":15,"utc":true},"type":"temporal","scale":{"type":"utc"},"axis":null},
 "y":{"field":"p","type":"quantitative","axis":null}}},
{"data":{"name":"tags"},"mark":{"type":"text","fontSize":8.5,"color":"#13315c","align":"center","baseline":"middle","clip":false},
 "encoding":{"x":{"datum":{"year":2024,"month":10,"date":7,"hours":11,"minutes":15,"utc":true},"type":"temporal","scale":{"type":"utc"},"axis":null},
 "y":{"field":"p","type":"quantitative","axis":null},"text":{"field":"p","type":"quantitative","format":".7f"}}},
{"data":{"values":[{}]},"mark":{"type":"point","shape":"M-1,-0.333H1V0.333H-1Z","size":2025,"filled":true,"fill":"#ffffff","stroke":"#dfe2e8","strokeWidth":1,"opacity":1,"clip":false},
 "encoding":{"x":{"datum":{"year":2024,"month":10,"date":7,"hours":12,"minutes":45,"utc":true},"type":"temporal","scale":{"type":"utc"},"axis":null},
 "y":{"datum":0.012933,"type":"quantitative","axis":null}}},
{"data":{"values":[{}]},"mark":{"type":"text","text":"USDT","fontSize":8.5,"color":"#333333","align":"left","baseline":"middle","clip":false},
 "encoding":{"x":{"datum":{"year":2024,"month":10,"date":6,"hours":18,"minutes":30,"utc":true},"type":"temporal","scale":{"type":"utc"},"axis":null},
 "y":{"datum":0.012933,"type":"quantitative","axis":null}}},
{"data":{"values":[{}]},"mark":{"type":"text","text":"1000PEPEUSDT.P, 1시, BYBIT","font":"Noto Sans CJK KR","fontSize":8.5,"color":"#333333","align":"left","baseline":"middle","dx":5,"dy":8},
 "encoding":{"x":{"datum":{"year":2024,"month":8,"date":16,"utc":true},"type":"temporal","scale":{"type":"utc"},"axis":null},
 "y":{"datum":0.0130744,"type":"quantitative","axis":null}}},
{"data":{"values":[{}]},"mark":{"type":"text","text":"TV","fontSize":10,"fontWeight":900,"color":"#131722","align":"center","baseline":"middle","dx":7,"dy":31,"clip":false},
 "encoding":{"x":{"datum":{"year":2024,"month":8,"date":16,"utc":true},"type":"temporal","scale":{"type":"utc"},"axis":null},
 "y":{"datum":0.0054193,"type":"quantitative","axis":null}}},
{"data":{"values":[{}]},"mark":{"type":"text","text":"TradingView","fontSize":9.5,"color":"#333333","align":"left","baseline":"middle","dx":17,"dy":31,"clip":false},
 "encoding":{"x":{"datum":{"year":2024,"month":8,"date":16,"utc":true},"type":"temporal","scale":{"type":"utc"},"axis":null},
 "y":{"datum":0.0054193,"type":"quantitative","axis":null}}}
]
}
